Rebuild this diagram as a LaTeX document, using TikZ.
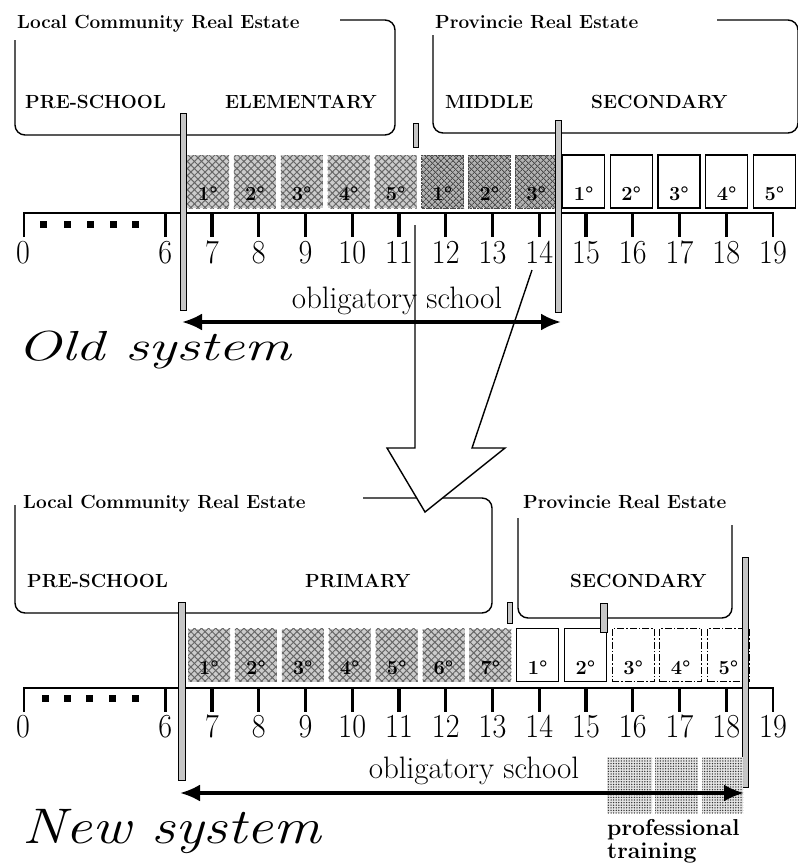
\documentclass[tikz,border=0pt]{standalone}
\usepackage{tikz}
\usetikzlibrary{shapes,arrows,arrows.meta,positioning,calc,patterns,patterns.meta}

\begin{document}
\begin{tikzpicture}[x=1pt, y=1pt, node distance=4.5pt, auto]
\tikzstyle{region} = [draw, line width=1.4pt, rounded corners=10pt]
\tikzstyle{estate} = [anchor=base west, inner sep=0pt, font=\fontsize{19}{22}\selectfont\bfseries]
\tikzstyle{grade} = [minimum width=42pt, minimum height=53pt, inner sep=0pt, text height=38pt, text depth=0pt, font=\fontsize{20}{22}\selectfont\bfseries]
\tikzstyle{hatch} = [grade, fill=gray!40,
  postaction={pattern={Lines[angle=45,distance=5pt,line width=1pt]}, pattern color=black!60},
  postaction={pattern={Lines[angle=-45,distance=5pt,line width=1pt]}, pattern color=black!60}]
\tikzstyle{darkhatch} = [grade, draw=black!70, densely dotted, fill=gray!60,
  postaction={pattern={Lines[angle=45,distance=4pt,line width=1pt]}, pattern color=black!70},
  postaction={pattern={Lines[angle=-45,distance=4pt,line width=1pt]}, pattern color=black!70}]
\tikzstyle{box} = [grade, draw, line width=1.2pt, fill=white]
\tikzstyle{dashbox} = [box, dash pattern=on 7pt off 2pt on 1.5pt off 2pt]
\tikzstyle{cut} = [draw, line width=0.8pt, fill=gray!45]
\tikzstyle{axis} = [line width=2.8pt]
\tikzstyle{tick} = [line width=3.2pt]
\tikzstyle{year} = [anchor=base, inner sep=0pt, font=\fontsize{30}{32}\selectfont, yscale=1.12]
\tikzstyle{note} = [anchor=base, inner sep=0pt, font=\fontsize{31}{33}\selectfont]
\tikzstyle{oblig} = [line width=3.2pt, {Latex[length=20pt,width=17pt]}-{Latex[length=20pt,width=17pt]}]
\tikzstyle{system} = [anchor=base west, inner sep=0pt]
\tikzstyle{training} = [preaction={fill=gray!20}, pattern={Dots[distance=2.6pt,radius=0.75pt]}, pattern color=black!80]

\useasboundingbox (0,0) rectangle (798,-865);

% new system: regions first, the big arrow lies on top of them
\draw[region] (363,-498) -- (492,-498) -- (492,-613) -- (15,-613) -- (15,-505);
\draw[region] (518,-518) -- (518,-618) -- (732,-618) -- (732,-525);
\draw[line width=1.4pt, fill=white] (415,-225) -- (415,-448) -- (387,-448) -- (425,-512)
  -- (505,-448) -- (472,-448) -- (532,-270);

% old system
\draw[region] (340,-20) -- (395,-20) -- (395,-135) -- (15,-135) -- (15,-40);
\draw[region] (717,-20) -- (798,-20) -- (798,-133) -- (433,-133) -- (433,-35);
\node[estate] (oldlocal) at (17,-28) {Local Community Real Estate};
\node[estate] (oldprov) at (435,-28) {Provincie Real Estate};
\node[estate] (oldpre) at (25,-108) {PRE-SCHOOL};
\node[estate] (oldelem) at (225,-108) {ELEMENTARY};
\node[estate] (oldmid) at (445,-108) {MIDDLE};
\node[estate] (oldsec) at (591,-108) {SECONDARY};

\node[hatch] (e1) at (208,-181.5) {1°};
\node[hatch, right=of e1] (e2) {2°};
\node[hatch, right=of e2] (e3) {3°};
\node[hatch, right=of e3] (e4) {4°};
\node[hatch, right=of e4] (e5) {5°};
\node[darkhatch, right=of e5] (m1) {1°};
\node[darkhatch, right=of m1] (m2) {2°};
\node[darkhatch, right=of m2] (m3) {3°};
\node[box, right=of m3] (s1) {1°};
\node[box, right=of s1] (s2) {2°};
\node[box, right=of s2] (s3) {3°};
\node[box, right=of s3] (s4) {4°};
\node[box, right=of s4] (s5) {5°};

\draw[axis] (24,-237) -- (24,-213) -- (773,-213) -- (773,-237);
\foreach \n in {6,...,18} \draw[tick] ({212+46.75*(\n-7)},-213) -- ++(0,-24);
\foreach \x in {43,67,90,113,135} \fill ({\x-3.5},-221) rectangle ++(7,-7);
\node[year] (oy0) at (23,-263) {0};
\foreach \n in {6,...,19} \node[year] (oy\n) at ({212+46.75*(\n-7)},-263) {\n};

\draw[cut] (180,-113) rectangle (186,-310);
\draw[cut] (555,-120) rectangle (561,-312);
\draw[cut] (413,-123) rectangle (418,-147);

\node[note] (oldoblig) at (397,-308) {obligatory school};
\coordinate (oldstart) at (182,-322);
\coordinate (oldend) at (561,-322);
\draw[oblig] (oldstart) -- (oldend);
\node[system, font=\fontsize{42}{44}\selectfont\itshape, xscale=1.39] (oldsys) at (17,-360) {Old system};

% new system
\node[estate] (newlocal) at (23,-508) {Local Community Real Estate};
\node[estate] (newprov) at (523,-508) {Provincie Real Estate};
\node[estate] (newpre) at (27,-587) {PRE-SCHOOL};
\node[estate] (newprim) at (305,-587) {PRIMARY};
\node[estate] (newsec) at (570,-587) {SECONDARY};

\node[hatch] (p1) at (209,-655) {1°};
\node[hatch, right=of p1] (p2) {2°};
\node[hatch, right=of p2] (p3) {3°};
\node[hatch, right=of p3] (p4) {4°};
\node[hatch, right=of p4] (p5) {5°};
\node[hatch, right=of p5] (p6) {6°};
\node[hatch, right=of p6] (p7) {7°};
\node[box, right=of p7] (n1) {1°};
\node[box, right=of n1] (n2) {2°};
\node[dashbox, right=of n2] (n3) {3°};
\node[dashbox, right=of n3] (n4) {4°};
\node[dashbox, right=of n4] (n5) {5°};

\draw[axis] (24,-712) -- (24,-688) -- (773,-688) -- (773,-712);
\foreach \n in {6,...,18} \draw[tick] ({212+46.75*(\n-7)},-688) -- ++(0,-24);
\foreach \x in {45,67,89,112,135} \fill ({\x-3.5},-695) rectangle ++(7,-7);
\node[year] (ny0) at (23,-737) {0};
\foreach \n in {6,...,19} \node[year] (ny\n) at ({212+46.75*(\n-7)},-737) {\n};

\draw[cut] (178,-602) rectangle (185,-780);
\draw[cut] (742,-557) rectangle (748,-787);
\draw[cut] (507,-602) rectangle (512,-623);
\draw[cut] (600,-603) rectangle (607,-632);

% professional training
\foreach \a/\b in {607/652,655/698,702/743}
  \path[training] (\a,-757) rectangle (\b,-813);
\node[anchor=north west, inner sep=0pt, align=left, font=\fontsize{23}{23}\selectfont\bfseries] (training) at (607,-819) {professional\\training};

\node[note] (newoblig) at (474,-778) {obligatory school};
\coordinate (newstart) at (180,-793);
\coordinate (newend) at (744,-793);
\draw[oblig] (newstart) -- (newend);
\node[system, font=\fontsize{50}{52}\selectfont\itshape, xscale=1.19] (newsys) at (22,-843) {New system};

\end{tikzpicture}
\end{document}
